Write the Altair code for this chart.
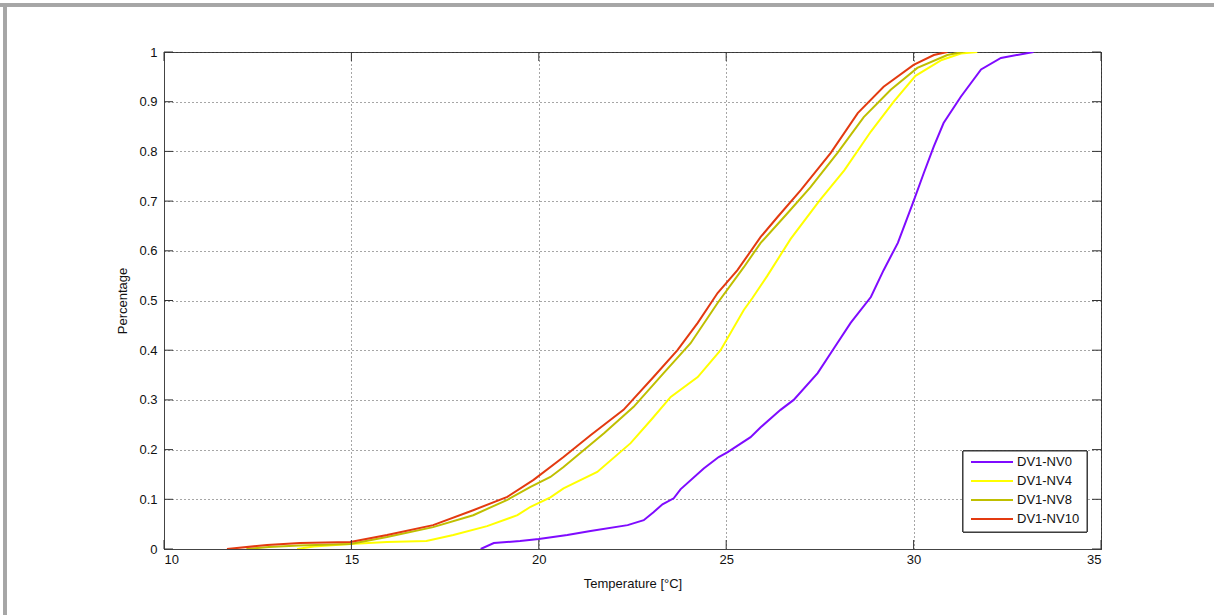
import altair as alt
import pandas as pd

# ---- data ----
series_names = ["DV1-NV0", "DV1-NV4", "DV1-NV8", "DV1-NV10"]
series_colors = ["#7F0BFF", "#FFFF00", "#BFBF00", "#E33A10"]

nv0_x = [18.45, 18.8, 19.5, 20.0, 20.76, 21.38, 22.37, 22.8, 23.06, 23.3, 23.6, 23.78, 24.4, 24.8,
         25.04, 25.65, 25.92, 26.45, 26.8, 27.44, 27.84, 28.32, 28.86, 29.2, 29.58, 29.98, 30.27,
         30.54, 30.8, 31.26, 31.8, 32.33, 33.2]
nv0_y = [0.0, 0.012, 0.016, 0.02, 0.028, 0.036, 0.048, 0.058, 0.074, 0.09, 0.102, 0.12, 0.162, 0.185,
         0.195, 0.225, 0.245, 0.28, 0.30, 0.354, 0.40, 0.455, 0.507, 0.561, 0.616, 0.696, 0.756,
         0.81, 0.857, 0.91, 0.965, 0.988, 1.0]

nv4_x = [13.55, 14.0, 14.97, 15.95, 17.0, 17.72, 18.62, 19.43, 19.78, 20.31, 20.66, 21.56, 22.45,
         23.0, 23.52, 24.24, 24.85, 25.47, 25.7, 26.1, 26.72, 27.5, 28.15, 28.86, 29.47, 30.05,
         30.75, 31.26, 31.7]
nv4_y = [0.0, 0.005, 0.01, 0.014, 0.016, 0.028, 0.046, 0.068, 0.085, 0.104, 0.122, 0.155, 0.213,
         0.26, 0.306, 0.346, 0.40, 0.481, 0.505, 0.55, 0.624, 0.702, 0.762, 0.84, 0.9, 0.952,
         0.984, 0.997, 1.0]

nv8_x = [12.2, 12.8, 13.6, 14.97, 15.95, 17.18, 18.25, 19.16, 19.78, 20.31, 20.66, 21.74, 22.53,
         23.33, 24.05, 24.77, 25.47, 25.92, 26.64, 27.25, 27.97, 28.67, 29.39, 30.1, 30.9, 31.3]
nv8_y = [0.0, 0.004, 0.007, 0.01, 0.024, 0.044, 0.068, 0.099, 0.125, 0.145, 0.165, 0.233, 0.286,
         0.354, 0.414, 0.495, 0.567, 0.616, 0.676, 0.728, 0.797, 0.869, 0.924, 0.968, 0.994, 1.0]

nv10_x = [11.68, 12.75, 13.63, 14.97, 15.95, 17.18, 18.25, 19.16, 19.86, 20.66, 21.38, 22.26, 23.06,
          23.7, 24.24, 24.77, 25.3, 25.92, 26.37, 26.99, 27.79, 28.51, 29.2, 30.0, 30.54, 30.9]
nv10_y = [0.0, 0.008, 0.012, 0.014, 0.028, 0.048, 0.078, 0.105, 0.139, 0.185, 0.229, 0.28, 0.346,
          0.40, 0.455, 0.515, 0.561, 0.628, 0.668, 0.722, 0.797, 0.877, 0.93, 0.974, 0.994, 1.0]

x_ticks = [10, 15, 20, 25, 30, 35]
y_ticks = [0, 0.1, 0.2, 0.3, 0.4, 0.5, 0.6, 0.7, 0.8, 0.9, 1.0]

x_title = "Temperature [°C]"
y_title = "Percentage"

# ---- build tables ----
rows = []
for name, xs, ys in zip(series_names,
                        [nv0_x, nv4_x, nv8_x, nv10_x],
                        [nv0_y, nv4_y, nv8_y, nv10_y]):
    for i, (a, b) in enumerate(zip(xs, ys)):
        rows.append({"series": name, "temp": a, "pct": b, "order": i})
df = pd.DataFrame(rows)
xt = pd.DataFrame({"v": x_ticks})
yt = pd.DataFrame({"v": y_ticks})
leg = pd.DataFrame({"series": series_names, "idx": list(range(len(series_names)))})

W, H = 937, 497
FONT = "Liberation Sans"
TXT = "#111111"
xscale = alt.Scale(domain=[10, 35], nice=False, zero=False)
yscale = alt.Scale(domain=[0, 1], nice=False, zero=False)
xaxis = alt.Axis(values=x_ticks, format="d", labelPadding=4, titlePadding=11)
yaxis = alt.Axis(values=y_ticks, format=".1~f", labelPadding=7, titlePadding=9)
cscale = alt.Scale(domain=series_names, range=series_colors)

lines = alt.Chart(df).mark_line(strokeWidth=2, clip=True).encode(
    x=alt.X("temp:Q", scale=xscale, title=x_title, axis=xaxis),
    y=alt.Y("pct:Q", scale=yscale, title=y_title, axis=yaxis),
    color=alt.Color("series:N", scale=cscale, legend=None),
    order="order:Q",
)

tick_color = "#333333"
xt_bottom = alt.Chart(xt).mark_rule(color=tick_color).encode(
    x=alt.X("v:Q", scale=xscale, title=x_title, axis=xaxis), y=alt.value(H), y2=alt.value(H - 9))
xt_top = alt.Chart(xt).mark_rule(color=tick_color).encode(
    x=alt.X("v:Q", scale=xscale, title=x_title, axis=xaxis), y=alt.value(0), y2=alt.value(9))
yt_left = alt.Chart(yt).mark_rule(color=tick_color).encode(
    y=alt.Y("v:Q", scale=yscale, title=y_title, axis=yaxis), x=alt.value(0), x2=alt.value(9))
yt_right = alt.Chart(yt).mark_rule(color=tick_color).encode(
    y=alt.Y("v:Q", scale=yscale, title=y_title, axis=yaxis), x=alt.value(W), x2=alt.value(W - 9))

# legend drawn by hand (box, line samples, labels)
leg_box = alt.Chart(leg).mark_rect(fill="white", stroke="#333333", strokeWidth=1).encode(
    x=alt.value(799), x2=alt.value(923), y=alt.value(399), y2=alt.value(480))
leg_base = alt.Chart(leg).transform_calculate(py="410 + 19 * datum.idx")
leg_lines = leg_base.mark_rule(strokeWidth=2).encode(
    x=alt.value(807), x2=alt.value(849), y=alt.Y("py:Q", scale=None),
    color=alt.Color("series:N", scale=cscale, legend=None))
leg_text = leg_base.mark_text(align="left", baseline="middle", font=FONT, fontSize=13,
                              color=TXT).encode(
    x=alt.value(853), y=alt.Y("py:Q", scale=None), text="series:N")

frame_top = alt.Chart(xt).mark_rule(color="#a6a6a6", strokeWidth=3).encode(
    x=alt.value(-164), x2=alt.value(1214 - 164), y=alt.value(-47))
frame_left = alt.Chart(xt).mark_rule(color="#a6a6a6", strokeWidth=3).encode(
    x=alt.value(-159), y=alt.value(-48), y2=alt.value(615 - 52))

chart = alt.layer(lines, xt_bottom, xt_top, yt_left, yt_right,
                  leg_box, leg_lines, leg_text, frame_top, frame_left).properties(
    width=W, height=H,
    autosize=alt.AutoSizeParams(type="none"),
    padding={"left": 164, "top": 52, "right": 113, "bottom": 66},
    background="white",
).configure_view(
    stroke="#444444", strokeWidth=1
).configure_axis(
    ticks=False, domainColor="#444444", domainWidth=1,
    grid=True, gridColor="#222222", gridDash=[1, 3], gridWidth=1, gridOpacity=0.8,
    labelFont=FONT, labelFontSize=13, labelColor=TXT,
    titleFont=FONT, titleFontSize=13, titleFontWeight="normal", titleColor=TXT,
)

chart.save("out.html", embed_options={"renderer": "svg", "actions": False})
